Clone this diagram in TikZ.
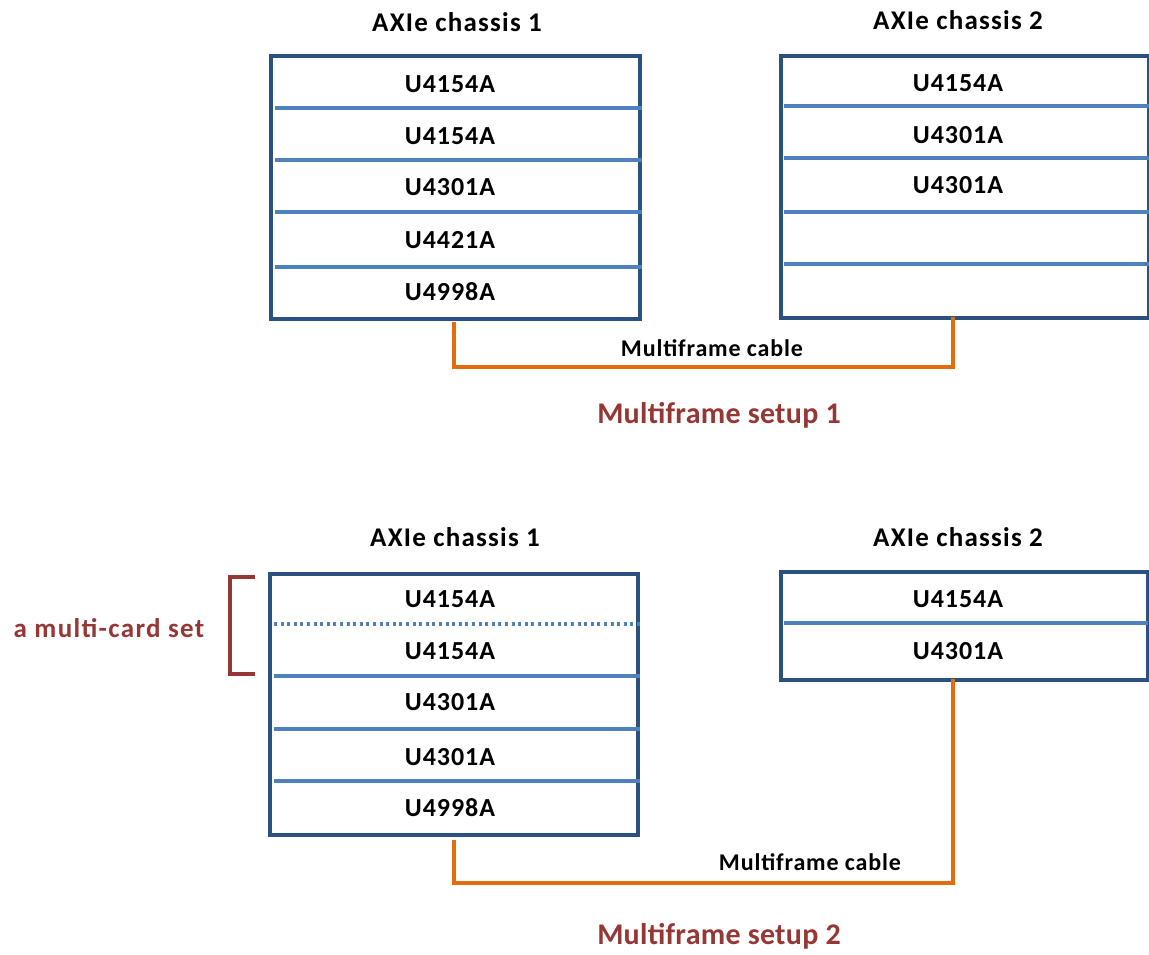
\documentclass[tikz,border=0pt]{standalone}
\usepackage{fontspec}
\setmainfont{Carlito}
\newfontfamily\cardfont[LetterSpace=3.7]{Carlito}
\newfontfamily\titlefont[LetterSpace=4.6]{Carlito}
\newfontfamily\cablefont[LetterSpace=3.6]{Carlito}
\newfontfamily\setupfont[LetterSpace=1]{Carlito}
\newfontfamily\setfont[LetterSpace=5]{Carlito}
\definecolor{boxblue}{HTML}{2B5183}
\definecolor{divblue}{HTML}{4F81BD}
\definecolor{cableorange}{HTML}{E46C0A}
\definecolor{labelred}{HTML}{953735}
\begin{document}
\begin{tikzpicture}[x=1pt,y=-1pt,
  chassis/.style={draw=boxblue,line width=3.6pt,anchor=north west,inner sep=0pt},
  divider/.style={draw=divblue,line width=3.2pt},
  dotdivider/.style={draw=divblue,line width=3.2pt,dash pattern=on 3pt off 3.6pt},
  card/.style={font=\cardfont\bfseries\fontsize{26}{29}\selectfont,text=black},
  title/.style={font=\titlefont\bfseries\fontsize{27}{30}\selectfont,text=black},
  cable/.style={draw=cableorange,line width=3.4pt},
  cablelabel/.style={font=\cablefont\bfseries\fontsize{24}{27}\selectfont,text=black},
  setuplabel/.style={font=\setupfont\bfseries\fontsize{30}{34}\selectfont,text=labelred},
  setlabel/.style={font=\setfont\bfseries\fontsize{27}{30}\selectfont,text=labelred},
  bracket/.style={draw=labelred,line width=3.2pt}]
\useasboundingbox (0,0) rectangle (1149,954);
% ---------- Setup 1 ----------
\node[title] (t11) at (457,22) {AXIe chassis 1};
\node[title] (t12) at (958,20) {AXIe chassis 2};
\node[chassis,minimum width=369pt,minimum height=263pt] (a1) at (269,54) {};
\node[chassis,minimum width=368pt,minimum height=262pt] (a2) at (779,54) {};
\foreach \y in {108,160,212,267} \draw[divider] (275,\y) -- (642,\y);
\foreach \y in {106,158,212,264} \draw[divider] (784,\y) -- (1149,\y);
\node[card] (a1c1) at (450,84) {U4154A};
\node[card] (a1c2) at (450,136) {U4154A};
\node[card] (a1c3) at (450,187) {U4301A};
\node[card] (a1c4) at (450,240) {U4421A};
\node[card] (a1c5) at (450,292) {U4998A};
\node[card] (a2c1) at (958,83) {U4154A};
\node[card] (a2c2) at (958,135) {U4301A};
\node[card] (a2c3) at (958,185) {U4301A};
\coordinate (k1a) at (454,322);
\coordinate (k1b) at (953,317);
\draw[cable] (k1a) |- (953,367) coordinate (k1c) -- (k1b);
\node[cablelabel] (cl1) at (712,348) {Multiframe cable};
\node[setuplabel] (s1) at (719,415) {Multiframe setup 1};
% ---------- Setup 2 ----------
\node[title] (t21) at (455,537) {AXIe chassis 1};
\node[title] (t22) at (958,537) {AXIe chassis 2};
\node[chassis,minimum width=368pt,minimum height=261pt] (b1) at (268,572) {};
\node[chassis,minimum width=367pt,minimum height=108pt] (b2) at (779,570) {};
\draw[dotdivider] (274,624) -- (640,624);
\foreach \y in {676,729,781} \draw[divider] (274,\y) -- (640,\y);
\draw[divider] (784,623) -- (1148,623);
\node[card] (b1c1) at (450,599) {U4154A};
\node[card] (b1c2) at (450,651) {U4154A};
\node[card] (b1c3) at (450,702) {U4301A};
\node[card] (b1c4) at (450,757) {U4301A};
\node[card] (b1c5) at (450,808) {U4998A};
\node[card] (b2c1) at (958,599) {U4154A};
\node[card] (b2c2) at (958,651) {U4301A};
\draw[bracket] (255,577) -- (230,577) -- (230,674) -- (255,674);
\node[setlabel] (mcs) at (109,628) {a multi-card set};
\coordinate (k2a) at (454,840);
\coordinate (k2b) at (953,679);
\draw[cable] (k2a) |- (953,883) coordinate (k2c) -- (k2b);
\node[cablelabel] (cl2) at (810,862) {Multiframe cable};
\node[setuplabel] (s2) at (719,936) {Multiframe setup 2};
\end{tikzpicture}
\end{document}
